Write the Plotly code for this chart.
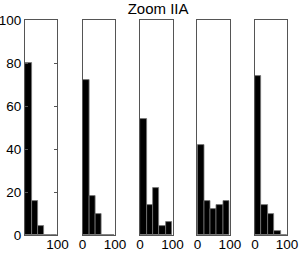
import plotly.graph_objects as go

bin_centers = [10, 30, 50, 70, 90]
series = [
    [80, 16, 4, 0, 0],
    [72, 18, 10, 0, 0],
    [54, 14, 22, 4, 6],
    [42, 16, 12, 14, 16],
    [74, 14, 10, 2, 0],
]
y_ticks = [0, 20, 40, 60, 80, 100]
x_ticks_first = [100]
x_ticks_other = [0, 100]
title_text = "Zoom IIA"

fig = go.Figure()
font_family = "Liberation Sans, Arial, sans-serif"
lefts = [0.0, 0.2195, 0.439, 0.658, 0.878]
w = 0.124

for i, vals in enumerate(series):
    ax = "" if i == 0 else str(i + 1)
    fig.add_trace(go.Bar(
        x=bin_centers, y=vals, width=20,
        marker=dict(color="black", line=dict(color="#777", width=0.8)),
        xaxis="x" + ax, yaxis="y" + ax, showlegend=False,
    ))
    xkey = "xaxis" + ax
    ykey = "yaxis" + ax
    fig.layout[xkey] = dict(
        domain=[lefts[i], min(1.0, lefts[i] + w)],
        range=[0, 100], anchor="y" + ax, automargin=False,
        tickvals=x_ticks_first if i == 0 else x_ticks_other,
        ticks="inside", ticklen=2, tickcolor="#555",
        ticklabelstandoff=-3,
        showgrid=False, zeroline=False,
        showline=True, mirror=True, linecolor="#555", linewidth=1,
        tickfont=dict(family=font_family, size=13.5, color="black"),
    )
    fig.layout[ykey] = dict(
        domain=[0, 1], range=[0, 100], anchor="x" + ax, automargin=False,
        tickvals=y_ticks if i == 0 else [],
        showticklabels=(i == 0),
        ticks="inside" if i == 0 else "", ticklen=3, tickcolor="#555",
        showgrid=False, zeroline=False,
        showline=True, mirror="ticks" if i == 0 else True,
        linecolor="#555", linewidth=1,
        tickfont=dict(family=font_family, size=13.5, color="black"),
    )

fig.update_layout(
    width=300, height=253,
    margin=dict(l=25, r=13, t=20, b=18, autoexpand=False),
    paper_bgcolor="white", plot_bgcolor="white",
    bargap=0,
    title=dict(text=title_text, x=0.508, xref="paper", xanchor="center",
               y=1 - 9 / 253, yref="container", yanchor="middle",
               font=dict(family=font_family, size=15, color="black")),
)

fig.write_html(
    "out.html",
    config={"displayModeBar": False},
    post_script="document.body.style.margin='0';document.body.style.overflow='hidden';",
)
